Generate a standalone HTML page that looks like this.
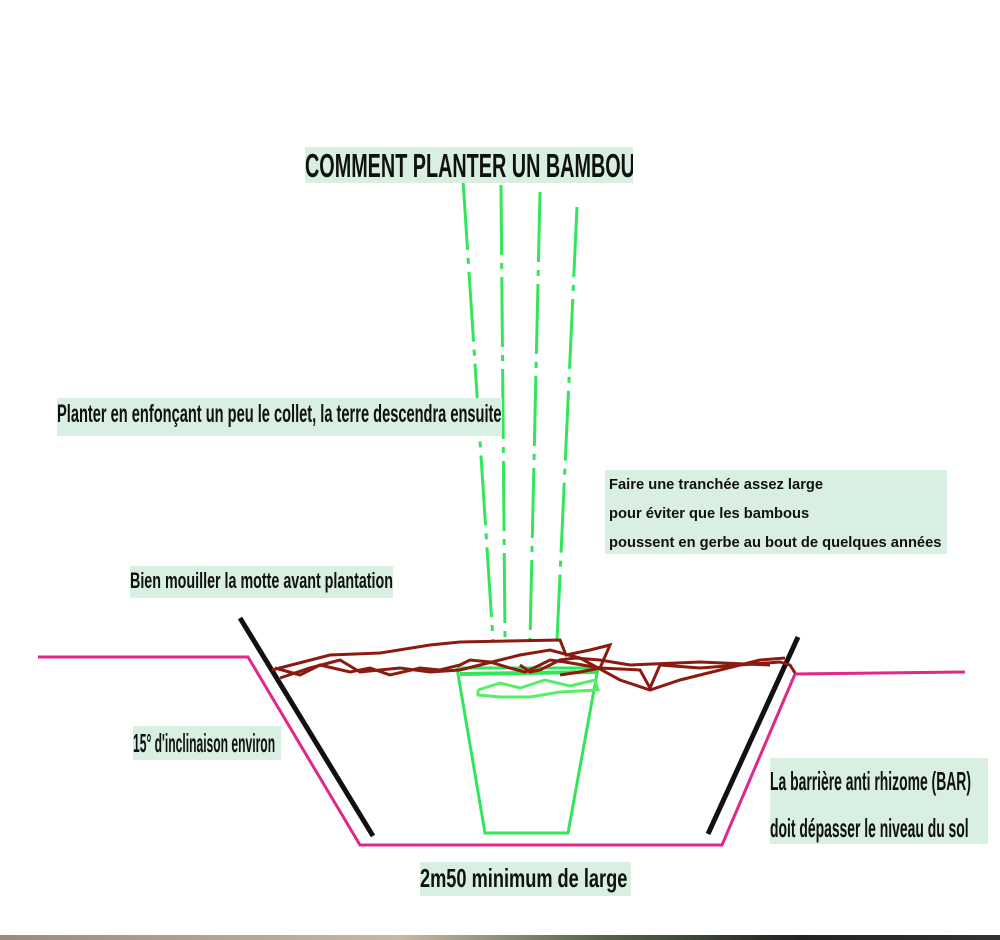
<!DOCTYPE html>
<html><head><meta charset="utf-8"><style>
body{margin:0;width:1000px;height:940px;background:#fff;position:relative;overflow:hidden;font-family:"Liberation Sans",sans-serif;}
.t{position:absolute;background:#d8efe2;color:#111;font-weight:bold;white-space:nowrap;line-height:1;overflow:hidden}
.t span{display:inline-block;transform-origin:0 0}
svg{position:absolute;left:0;top:0}
</style></head><body>
<svg width="1000" height="940">
<g stroke="#33e55a" stroke-width="3" fill="none" stroke-dasharray="70,8,6,8">
<line x1="463" y1="180" x2="493" y2="640"/>
<line x1="501" y1="185" x2="505" y2="640"/>
<line x1="540" y1="192" x2="530" y2="640"/>
<line x1="577" y1="207" x2="557" y2="640"/>
</g>
<g stroke="#33e55a" stroke-width="3" fill="none">
<polyline points="457,668 598,668 568,833 485,833 457,668"/>
<polyline points="478,690 500,683 520,688 545,680 570,686 595,680 598,690 560,692 530,697 500,697 478,695 478,690" stroke="#55ee66"/>
<line x1="460" y1="674" x2="596" y2="672" stroke-width="4"/>
</g>
<polyline points="38,657 248,657 360,845 722,845 795,674 965,672" stroke="#e0288a" stroke-width="3" fill="none"/>
<line x1="240" y1="618" x2="373" y2="836" stroke="#111" stroke-width="5"/>
<line x1="798" y1="637" x2="708" y2="834" stroke="#111" stroke-width="5"/>
<g stroke="#8b1a10" stroke-width="3" fill="none">
<polyline points="272,670 330,655 380,653 430,645 460,642 560,640 566,655 590,650 610,645 600,668 580,672 560,675"/>
<polyline points="275,668 300,675 320,665 350,672 370,668 390,675 420,668 440,670 460,665 470,660 490,662 510,668 525,672 540,665 550,660 565,662 600,668 640,670 650,688 660,665 700,668 740,665 780,662 790,665 795,673"/>
<polyline points="280,678 310,668 340,660 360,672 400,668 430,672 460,670 500,660 520,655 550,650 580,658 620,680 650,690 680,680 720,670 760,660 785,658"/>
<polyline points="520,665 530,672 540,670 560,660 575,658 600,660 630,665 700,662 770,665"/>
</g>
</svg>
<div class="t" style="left:305px;top:147px;width:328px;height:36px;font-size:33px"><span style="transform:scaleX(0.6);padding-top:2px">COMMENT PLANTER UN BAMBOU</span></div>
<div class="t" style="left:57px;top:398px;width:445px;height:38px;font-size:25px"><span style="transform:scaleX(0.585);padding-top:4px">Planter en enfonçant un peu le collet, la terre descendra ensuite</span></div>
<div class="t" style="left:605px;top:470px;font-size:15px;line-height:29px;width:342px;height:84px;padding-left:4px;box-sizing:border-box"><span style="transform:scaleX(0.98)">Faire une tranchée assez large<br>pour éviter que les bambous<br>poussent en gerbe au bout de quelques années</span></div>
<div class="t" style="left:130px;top:566px;width:263px;height:32px;font-size:22px"><span style="transform:scaleX(0.65);padding-top:4px">Bien mouiller la motte avant plantation</span></div>
<div class="t" style="left:133px;top:726px;width:148px;height:34px;font-size:26px"><span style="transform:scaleX(0.465);padding-top:4px">15° d'inclinaison environ</span></div>
<div class="t" style="left:770px;top:758px;width:218px;height:86px;font-size:26px;line-height:47px"><span style="transform:scaleX(0.535)">La barrière anti rhizome (BAR)<br>doit dépasser le niveau du sol</span></div>
<div class="t" style="left:420px;top:862px;width:211px;height:34px;font-size:26px"><span style="transform:scaleX(0.7);padding-top:3px">2m50 minimum de large</span></div>
<div style="position:absolute;left:0;top:935px;width:1000px;height:5px;background:linear-gradient(90deg,#9b8a7a,#c9b8a0 40%,#556644 60%,#222 80%,#333)"></div>
</body></html>
